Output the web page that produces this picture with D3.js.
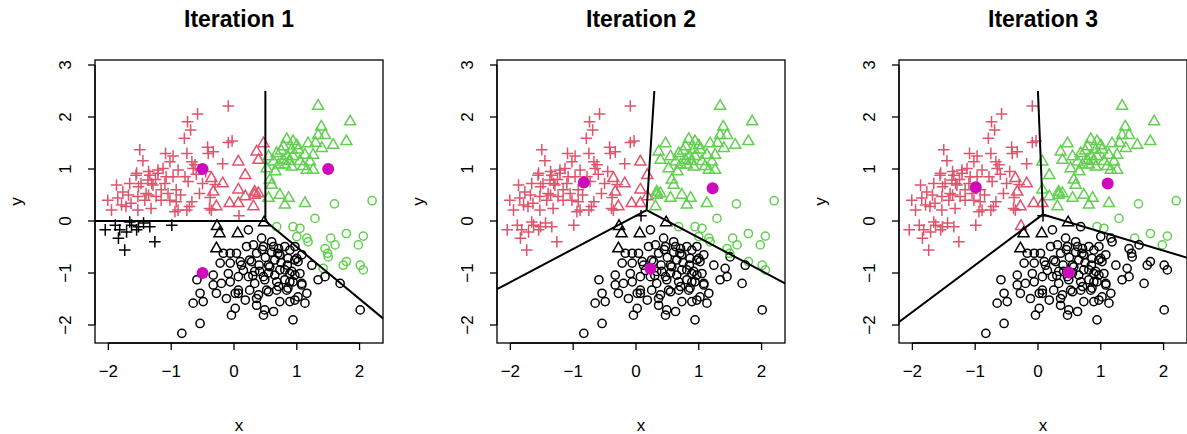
<!DOCTYPE html>
<html>
<head>
<meta charset="utf-8">
<script src="https://cdn.jsdelivr.net/npm/d3@7"></script>
<style>
  body { margin: 0; background: #fff; }
  svg { display: block; }
  text { font-family: "Liberation Sans", Arial, Helvetica, sans-serif; fill: #000; }
</style>
</head>
<body>
<svg id="chart" width="1187" height="434"></svg>
<script>
// Observations, grouped by marker shape: [x, y]
const crosses = [
  [-0.09,2.21],[-0.58,2.06],[-0.74,1.91],[-0.69,1.75],[-0.79,1.59],[-0.09,1.51],[-0.03,1.54],
  [-1.50,1.37],[-1.45,1.16],[-0.42,1.42],[-0.33,1.33],[-0.18,1.10],[-0.75,1.30],[-1.09,1.30],
  [-0.97,1.25],[-1.02,1.14],[-0.67,1.14],[-0.62,1.08],[-0.89,0.98],[-1.13,1.01],[-1.55,0.92],
  [-1.36,0.95],[-1.21,0.92],[-0.78,0.85],[-0.97,0.85],[-0.41,1.30],[-0.65,1.01],[-0.45,0.95],
  [-0.60,0.90],[-1.08,0.85],[-1.10,0.72],[-1.34,0.88],[-1.56,0.88],[-1.66,0.72],[-1.48,0.72],
  [-1.29,0.69],[-1.77,0.56],[-1.85,0.44],[-2.01,0.40],[-1.95,0.21],[-1.72,0.28],[-1.53,0.47],
  [-1.40,0.53],[-1.24,0.47],[-1.05,0.53],[-0.92,0.60],[-0.73,0.76],[-0.55,0.53],[-0.92,0.37],
  [-0.71,0.28],[-0.89,0.21],[-1.32,0.24],[-1.53,0.21],[-1.64,0.34],[-1.21,0.98],[-1.37,0.79],
  [-1.16,0.60],[-1.42,0.40],[-1.16,0.40],[-1.02,0.40],[-1.79,0.31],[-1.68,0.50],[-1.52,0.66],
  [-1.36,0.50],[-0.75,0.21],[-0.67,0.37],[-0.36,0.21],[-0.94,0.18],[-1.31,0.72],[-1.87,0.69],
  [-0.39,0.24],[-0.38,0.45],[-0.50,0.72],[-0.30,0.70],[-1.25,0.80],[-0.85,0.50],[0.08,0.10],
  [-2.05,-0.17],[-1.89,-0.08],[-1.82,-0.17],[-1.66,-0.02],[-1.71,-0.21],[-1.63,-0.08],[-1.52,-0.11],
  [-1.44,-0.04],[-1.34,-0.11],[-1.84,-0.33],[-1.74,-0.56],[-1.26,-0.40],[-0.99,-0.08],[-1.55,-0.17]
];

const triangles = [
  [0.47,1.49],[0.36,1.33],[0.39,1.17],[0.07,1.14],[0.18,0.88],[-0.36,0.82],[-0.18,0.72],[-0.33,0.56],
  [-0.28,0.28],[-0.07,0.34],[0.33,0.56],[0.07,0.60],[0.18,0.47],[0.33,0.50],[0.39,0.53],[0.31,0.28],
  [0.07,0.34],
  [1.34,2.21],[1.85,1.91],[1.39,1.81],[1.34,1.65],[1.45,1.65],[1.79,1.53],[1.58,1.46],[1.18,1.49],
  [1.40,1.40],[0.84,1.57],[0.94,1.53],[0.79,1.43],[0.92,1.37],[1.02,1.37],[0.68,1.30],[0.55,1.24],
  [0.63,1.14],[0.79,1.17],[0.94,1.24],[1.13,1.27],[1.26,1.27],[1.21,1.14],[0.92,1.04],[1.16,0.98],
  [1.26,0.98],[0.52,1.01],[0.71,1.08],[0.81,1.08],[0.57,0.79],[0.60,0.69],[0.73,0.50],[0.87,0.44],
  [0.81,0.31],[1.13,0.34],[0.55,0.44],[0.85,1.25],[1.05,1.15],[0.75,1.35],[1.00,1.45],[1.10,1.05],
  [0.66,0.95],[1.30,1.50],[0.88,1.15],
  [-0.27,-0.10],[-0.23,-0.24],[-0.28,-0.53],[0.06,-0.24],[0.48,-0.03]
];

const circles = [
  [1.60,0.33],[2.20,0.39],[1.29,0.05],[0.68,-0.11],[0.94,-0.11],[1.05,-0.14],[1.00,-0.30],[1.16,-0.33],
  [1.18,-0.40],[1.54,-0.33],[1.61,-0.46],[1.79,-0.24],[2.06,-0.29],[1.98,-0.46],[1.45,-0.53],[1.50,-0.69],
  [1.79,-0.78],[1.74,-0.85],[2.01,-0.85],[2.06,-0.94],[1.42,-0.91],[1.49,-0.62],
  [0.20,-0.49],[-0.06,-0.62],[0.04,-0.62],[-0.22,-0.81],[-0.06,-0.81],[0.10,-0.78],[0.25,-0.75],[0.36,-0.62],
  [0.47,-0.49],[-0.33,-1.04],[-0.59,-1.13],[-0.33,-1.23],[-0.20,-1.20],[-0.09,-1.01],[-0.06,-1.17],[0.07,-1.07],
  [0.23,-1.07],[0.41,-0.97],[0.49,-1.13],[0.33,-1.20],[-0.54,-1.39],[-0.65,-1.58],[-0.49,-1.55],[-0.28,-1.39],
  [-0.12,-1.49],[0.02,-1.39],[0.07,-1.33],[0.18,-1.52],[0.02,-1.68],[-0.04,-1.81],[0.36,-1.49],[0.36,-1.62],
  [0.49,-1.71],[0.47,-1.81],[0.63,-1.74],[0.68,-1.33],[0.84,-1.33],[0.89,-1.55],[0.94,-1.90],[-0.54,-1.97],
  [-0.83,-2.16],[0.57,-0.88],[0.73,-0.94],[0.89,-1.01],[0.68,-1.17],[0.81,-1.13],[0.94,-1.17],[0.73,-0.65],
  [0.89,-0.56],[0.63,-0.49],[0.31,-0.46],[-0.17,-0.62],[0.52,-1.33],[0.25,-1.33],
  [0.23,-0.17],[0.44,-0.33],[0.60,-0.40],[0.71,-0.53],[0.81,-0.49],[0.97,-0.49],[0.86,-0.72],[0.65,-0.75],
  [0.55,-0.85],[0.28,-0.78],[0.12,-0.85],[0.33,-0.97],[0.47,-1.07],[0.65,-1.04],[0.81,-0.94],[0.97,-1.04],
  [1.08,-1.23],[1.24,-0.85],[1.45,-1.07],[1.16,-1.39],[0.86,-1.29],[0.71,-1.26],[0.55,-1.36],[0.39,-1.42],
  [0.07,-1.39],[0.73,-1.55],[0.97,-1.52],[0.89,-1.17],[1.02,-0.78],[1.08,-0.65],
  [0.97,-0.75],[1.34,-1.13],[1.69,-1.20],[2.01,-1.71],[1.13,-1.58],[1.02,-1.46],[1.08,-1.20],[0.92,-0.97],
  [1.05,-1.01],[1.00,-0.72],
  [0.50,-0.70],[0.60,-0.60],[0.75,-0.80],[0.40,-0.85],[0.30,-1.05],[0.15,-0.95],[0.55,-1.00],[0.70,-0.62],
  [0.45,-0.55],[0.85,-0.85]
];

// Cluster centres per iteration, in cluster order: red, green, black
const iterationTitles = ["Iteration 1", "Iteration 2", "Iteration 3"];
const iterationCenters = [
  [[-0.50, 1.00], [1.50, 1.00], [-0.50, -1.00]],
  [[-0.83, 0.74], [1.22, 0.63], [0.23, -0.92]],
  [[-0.99, 0.65], [1.11, 0.72], [0.49, -0.99]]
];
const clusterColors = ["#DF536B", "#61D04F", "#000000"];
const centerColor = "#CD0BBC";

const xTicks = [-2, -1, 0, 1, 2];
const yTicks = [-2, -1, 0, 1, 2, 3];
const xDomain = [-2.213, 2.373];
const yDomain = [-2.346, 3.096];
const cellBounds = [-2.5, -2.5, 2.5, 2.5];

// ---- layout ----
const panelWidth = 402;
const plot = { left: 95, right: 383, top: 60, bottom: 343 };
const R = 4.1;                 // symbol radius
const SW = 1.5;                // symbol stroke width
const fmt = d3.format("d");    // d3 uses the minus sign for negatives

const svg = d3.select("#chart");

// Symbol paths (centred at origin)
const tri = (() => {
  const TRC0 = Math.sqrt(4 * Math.PI / (3 * Math.sqrt(3)));
  const r = TRC0 * R, xc = r * Math.sqrt(3) / 2, yc = r / 2;
  return `M0,${-r}L${xc},${yc}L${-xc},${yc}Z`;
})();
const crossHalf = Math.SQRT2 * R;
const cross = `M${-crossHalf},0H${crossHalf}M0,${-crossHalf}V${crossHalf}`;

function nearest(p, centers) {
  let best = 0, bd = Infinity;
  centers.forEach((c, i) => {
    const d = (p[0] - c[0]) ** 2 + (p[1] - c[1]) ** 2;
    if (d < bd) { bd = d; best = i; }
  });
  return best;
}

// Path context that maps data coordinates through the panel scales
function scaledContext(sx, sy) {
  let d = "";
  return {
    moveTo(x, y) { d += `M${sx(x)},${sy(y)}`; },
    lineTo(x, y) { d += `L${sx(x)},${sy(y)}`; },
    closePath() { d += "Z"; },
    toString() { return d; }
  };
}

iterationTitles.forEach((title, k) => {
  const off = k * panelWidth;
  const g = svg.append("g").attr("transform", `translate(${off},0)`);
  const x = d3.scaleLinear().domain(xDomain).range([plot.left, plot.right]);
  const y = d3.scaleLinear().domain(yDomain).range([plot.bottom, plot.top]);
  const centers = iterationCenters[k];

  const clipId = `clip${k}`;
  g.append("clipPath").attr("id", clipId)
    .append("rect")
    .attr("x", plot.left).attr("y", plot.top)
    .attr("width", plot.right - plot.left).attr("height", plot.bottom - plot.top);

  const body = g.append("g").attr("clip-path", `url(#${clipId})`);

  // circles
  body.append("g").selectAll("circle").data(circles).join("circle")
    .attr("cx", d => x(d[0])).attr("cy", d => y(d[1])).attr("r", R)
    .attr("fill", "none").attr("stroke-width", SW)
    .attr("stroke", d => clusterColors[nearest(d, centers)]);

  // triangles
  body.append("g").selectAll("path").data(triangles).join("path")
    .attr("d", tri)
    .attr("transform", d => `translate(${x(d[0])},${y(d[1])})`)
    .attr("fill", "none").attr("stroke-width", SW).attr("stroke-linejoin", "miter")
    .attr("stroke", d => clusterColors[nearest(d, centers)]);

  // crosses
  body.append("g").selectAll("path").data(crosses).join("path")
    .attr("d", cross)
    .attr("transform", d => `translate(${x(d[0])},${y(d[1])})`)
    .attr("fill", "none").attr("stroke-width", SW)
    .attr("stroke", d => clusterColors[nearest(d, centers)]);

  // centres
  body.append("g").selectAll("circle").data(centers).join("circle")
    .attr("cx", d => x(d[0])).attr("cy", d => y(d[1])).attr("r", 6)
    .attr("fill", centerColor);

  // Voronoi boundaries between the centres
  const vor = d3.Delaunay.from(centers).voronoi(cellBounds);
  const ctx = scaledContext(x, y);
  vor.render(ctx);
  body.append("path").attr("d", ctx.toString())
    .attr("fill", "none").attr("stroke", "#000").attr("stroke-width", 2);

  // frame
  g.append("rect")
    .attr("x", plot.left).attr("y", plot.top)
    .attr("width", plot.right - plot.left).attr("height", plot.bottom - plot.top)
    .attr("fill", "none").attr("stroke", "#000").attr("stroke-width", 1.3);

  // x axis
  const xa = g.append("g");
  xa.append("line")
    .attr("x1", x(xTicks[0])).attr("x2", x(xTicks[xTicks.length - 1]))
    .attr("y1", plot.bottom).attr("y2", plot.bottom)
    .attr("stroke", "#000").attr("stroke-width", 1.3);
  xa.selectAll("line.tick").data(xTicks).join("line").attr("class", "tick")
    .attr("x1", d => x(d)).attr("x2", d => x(d))
    .attr("y1", plot.bottom).attr("y2", plot.bottom + 7)
    .attr("stroke", "#000").attr("stroke-width", 1.3);
  xa.selectAll("text").data(xTicks).join("text")
    .attr("x", d => x(d)).attr("y", plot.bottom + 34)
    .attr("text-anchor", "middle").attr("font-size", 17)
    .text(d => fmt(d));

  // y axis
  const ya = g.append("g");
  ya.append("line")
    .attr("y1", y(yTicks[0])).attr("y2", y(yTicks[yTicks.length - 1]))
    .attr("x1", plot.left).attr("x2", plot.left)
    .attr("stroke", "#000").attr("stroke-width", 1.3);
  ya.selectAll("line.tick").data(yTicks).join("line").attr("class", "tick")
    .attr("y1", d => y(d)).attr("y2", d => y(d))
    .attr("x1", plot.left).attr("x2", plot.left - 7)
    .attr("stroke", "#000").attr("stroke-width", 1.3);
  ya.selectAll("text").data(yTicks).join("text")
    .attr("transform", d => `translate(${plot.left - 24},${y(d)}) rotate(-90)`)
    .attr("text-anchor", "middle").attr("font-size", 17)
    .text(d => fmt(d));

  // axis titles
  g.append("text").attr("x", (plot.left + plot.right) / 2).attr("y", 431)
    .attr("text-anchor", "middle").attr("font-size", 17).text("x");
  g.append("text")
    .attr("transform", `translate(22,${(plot.top + plot.bottom) / 2}) rotate(-90)`)
    .attr("text-anchor", "middle").attr("font-size", 17).text("y");

  // title
  g.append("text").attr("x", (plot.left + plot.right) / 2).attr("y", 27)
    .attr("text-anchor", "middle").attr("font-size", 23).attr("font-weight", "bold")
    .text(title);
});
</script>
</body>
</html>
